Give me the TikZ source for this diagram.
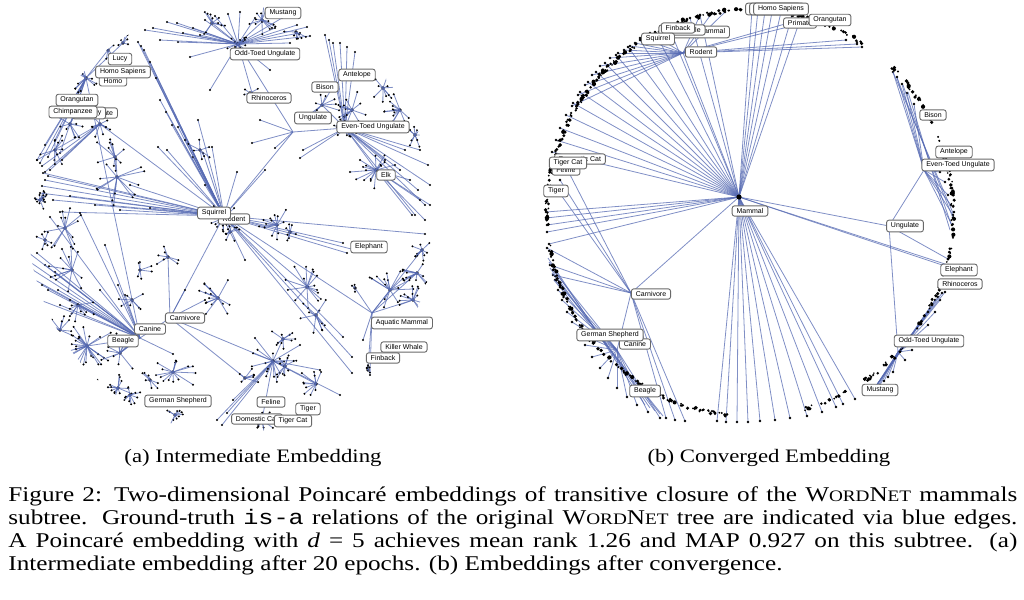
\documentclass[tikz,border=0pt]{standalone}
\usepackage{fontspec}
\setmainfont{Liberation Serif}[FakeStretch=1.2]
\setmonofont{Liberation Mono}[FakeStretch=1.2]
\newfontfamily\tagfont{Liberation Sans}
\usetikzlibrary{calc}
\definecolor{edgeblue}{RGB}{85, 105, 178}
\definecolor{boxgray}{RGB}{105, 105, 105}
\newcommand{\smc}[1]{{\fontsize{8}{8}\selectfont #1}}
\newcommand{\wordnet}{W\smc{ORD}N\smc{ET}}
\tikzset{
  edge/.style={edgeblue, line width=0.4pt, opacity=0.75},
  tag/.style={draw=boxgray, fill=white, rounded corners=1.2pt, line width=0.45pt,
    font=\tagfont\fontsize{3.5}{4}\selectfont, inner xsep=2.2pt, inner ysep=1.3pt},
  subcap/.style={font=\fontsize{9.5}{11}\selectfont, inner sep=0pt},
}

\begin{document}
\begin{tikzpicture}[x=0.5pt, y=-0.5pt]
  \useasboundingbox (0,0) rectangle (1024,600);
  \pgfmathsetseed{7}

  % ---- (a) intermediate embedding ----
  \begin{scope}
    \clip (232,219) ellipse (204 and 214);
    \coordinate (rodL) at (224,216);
    \coordinate (oddL) at (238,44);
    \coordinate (ungL) at (293,132);
    \coordinate (evenL) at (345,128);
    \coordinate (primL) at (86,78);
    \coordinate (apeL) at (100,124);
    \coordinate (carnL) at (170,318);
    \coordinate (canL) at (140,338);
    \coordinate (felL) at (273,361);
    \coordinate (elkL) at (376,170);
    \coordinate (aquaL) at (372,313);

    % hub to hub
    \draw[edge] (rodL) -- (ungL) (ungL) -- (evenL) (ungL) -- (oddL) (rodL) -- (carnL)
      (carnL) -- (canL) (carnL) -- (felL) (apeL) -- (rodL) (rodL) -- (aquaL)
      (evenL) -- (elkL) (canL) -- (primL);

    % long edges
    \foreach \h/\x/\y in {rodL/138/42, rodL/141/46, rodL/144/50, rodL/150/62, rodL/156/78,
      rodL/160/100, rodL/166/112, rodL/172/125, rodL/178/127, rodL/158/147, rodL/167/150,
      rodL/193/157, rodL/203/153, rodL/212/147, rodL/237/172, rodL/43/173, rodL/45/180,
      rodL/40/193, rodL/53/200, rodL/70/196, rodL/95/205, rodL/120/210, rodL/150/208,
      rodL/60/212, rodL/343/243, rodL/347/253, rodL/355/250, rodL/425/234, rodL/352/357,
      rodL/352/373, rodL/343/337, rodL/245/260, rodL/277/225, rodL/308/287, rodL/48/176,
      rodL/42/186, rodL/130/185, rodL/185/140, rodL/198/120, rodL/265/170, rodL/205/185,
      oddL/167/22, oddL/177/23, oddL/153/28, oddL/183/33, oddL/193/28, oddL/205/20,
      oddL/215/16, oddL/228/14, oddL/255/18, oddL/262/22, oddL/275/28, oddL/297/25,
      oddL/307/27, oddL/300/33, oddL/290/43, oddL/210/90, oddL/190/57, oddL/178/42,
      oddL/270/70, oddL/252/93, oddL/212/23, oddL/145/30, oddL/160/40, oddL/240/12,
      oddL/282/18, oddL/310/36, oddL/200/35,
      primL/40/163, primL/48/157, primL/60/153, primL/37/160, primL/108/50, primL/123/43,
      primL/70/125, primL/55/140, primL/45/145, apeL/37/160, apeL/42/166, apeL/50/170,
      apeL/45/172, apeL/62/160,
      evenL/325/35, evenL/329/40, evenL/333/43, evenL/340/43, evenL/347/47, evenL/355/52,
      evenL/410/130, evenL/420/150, evenL/428/165, evenL/430/185, evenL/425/205,
      evenL/415/215, evenL/400/170, evenL/300/158, evenL/303/150, evenL/322/105,
      evenL/352/110, evenL/385/160, evenL/418/190, evenL/405/150, ungL/252/143,
      ungL/275/148, ungL/260/120,
      carnL/168/257, carnL/245/378, carnL/185/290, carnL/205/300,
      canL/37/253, canL/30/262, canL/45/265, canL/55/272, canL/35/280, canL/48/290,
      canL/40/300, canL/60/305, canL/25/250, canL/50/217, canL/118/285, canL/125/295,
      canL/100/290, canL/80/213, canL/173/354, canL/120/353, canL/87/346, canL/33/270,
      canL/42/285, canL/58/290, canL/70/300, canL/105/245,
      felL/217/420, felL/227/413, felL/233/400, felL/316/384, felL/285/366, felL/283/339,
      felL/255/338, felL/262/420, felL/300/345, felL/320/370, felL/222/425, felL/340/395,
      elkL/420/200, elkL/430/205, elkL/410/180, elkL/395/165, elkL/360/160, elkL/350/172,
      elkL/412/215, elkL/425/220, aquaL/363/340, aquaL/390/290, aquaL/417/273,
      aquaL/413/300, aquaL/422/250, aquaL/355/288, aquaL/368/367, aquaL/370/375}{
      \draw[edge] (\h) -- (\x,\y);
      \fill (\x,\y) circle (1.2);
    }

    % local stars
    \foreach \x/\y/\n/\rad in {224/218/16/16, 230/232/8/10, 212/23/8/14, 262/20/10/16,
      296/32/6/12, 108/50/6/14, 123/43/5/10, 86/78/10/18, 100/124/8/14, 70/124/8/16,
      55/150/8/16, 115/157/8/24, 117/177/10/30, 40/200/12/10, 65/228/10/24, 72/270/10/24,
      168/257/6/14, 132/300/6/14, 78/305/8/20, 87/346/22/28, 120/353/10/22, 173/372/12/28,
      118/388/10/16, 130/395/8/14, 85/383/10/14, 175/415/8/12, 218/298/12/22, 277/225/10/18,
      290/232/6/12, 307/287/12/24, 316/315/8/18, 273/361/10/24, 285/366/8/14, 316/384/8/18,
      283/339/8/14, 245/378/6/14, 262/420/10/14, 200/150/6/14, 322/105/8/20, 352/110/10/20,
      383/88/8/16, 400/110/10/18, 415/135/8/14, 345/128/10/14, 376/170/10/22, 422/250/8/12,
      390/290/12/24, 417/273/10/16, 413/300/10/16, 355/288/3/6, 368/370/4/6, 250/93/4/10,
      238/44/12/12, 150/380/6/12, 60/330/8/16, 105/410/6/12, 45/240/6/10, 140/270/5/12}{
      \fill (\x,\y) circle (1.8);
      \pgfmathtruncatemacro\nn{1.3*\n}
      \foreach \k in {1,...,\nn}{
        \pgfmathsetmacro\ang{360*rnd}
        \pgfmathsetmacro\len{\rad*(0.3+0.7*rnd)}
        \draw[edge] (\x,\y) -- ++(\ang:\len) coordinate (tip);
        \fill (tip) circle (1.1);
      }
    }
  \end{scope}

  % labels (a)
  \node[tag] (lucyA) at (120,59) {Lucy};
  \node[tag] (homoA) at (113,81) {Homo};
  \node[tag] (sapA) at (123,72) {Homo Sapiens};
  \node[tag] (oranA) at (77,100) {Orangutan};
  \node[tag] (primA) at (101,113) {Primate};
  \node[tag] (monkA) at (89,113) {Monkey};
  \node[tag] (chimpA) at (73,112) {Chimpanzee};
  \node[tag] (mustA) at (283,13) {Mustang};
  \node[tag] (oddA) at (265,54) {Odd-Toed Ungulate};
  \node[tag] (rhinoA) at (269,98) {Rhinoceros};
  \node[tag] (bisonA) at (325,87) {Bison};
  \node[tag] (antA) at (357,75) {Antelope};
  \node[tag] (ungA) at (313,118) {Ungulate};
  \node[tag] (evenA) at (373,127) {Even-Toed Ungulate};
  \node[tag] (elkA) at (386,175) {Elk};
  \node[tag] (rodA) at (234,219) {Rodent};
  \node[tag] (squA) at (214,213) {Squirrel};
  \node[tag] (eleA) at (369,247) {Elephant};
  \node[tag] (aquaA) at (402,323) {Aquatic Mammal};
  \node[tag] (whaleA) at (404,347) {Killer Whale};
  \node[tag] (finA) at (383,358) {Finback};
  \node[tag] (carnA) at (185,318) {Carnivore};
  \node[tag] (canA) at (150,329) {Canine};
  \node[tag] (beagA) at (123,341) {Beagle};
  \node[tag] (gsA) at (178,401) {German Shepherd};
  \node[tag] (felA) at (271,402) {Feline};
  \node[tag] (tigA) at (308,409) {Tiger};
  \node[tag] (domA) at (257,419) {Domestic Cat};
  \node[tag] (tcA) at (293,421) {Tiger Cat};

  % ---- (b) converged embedding ----
  \coordinate (rimc) at (750,213);
  \coordinate (mamR) at (739,197);
  \coordinate (rodR) at (683,53);
  \coordinate (carnR) at (631,293);
  \coordinate (canR) at (617,350);
  \coordinate (ungR) at (889,226);
  \coordinate (evenR) at (924,170);
  \coordinate (oddR) at (898,352);
  \coordinate (musR) at (874,389);

  \draw[edge] (mamR) -- (rodR) (mamR) -- (carnR) (mamR) -- (ungR) (carnR) -- (canR)
    (ungR) -- (evenR) (ungR) -- (oddR) (oddR) -- (musR);

  \foreach \h/\x/\y in {mamR/752/10, mamR/758/10, mamR/765/11, mamR/772/12, mamR/781/12,
    mamR/792/16, mamR/800/20, mamR/700/15, mamR/690/18, mamR/668/25, mamR/655/32,
    mamR/640/40, mamR/628/47, mamR/616/55, mamR/605/63, mamR/596/72, mamR/588/82,
    mamR/580/92, mamR/573/103, mamR/566/115, mamR/560/128, mamR/556/140, mamR/552/152,
    mamR/546/212, mamR/546/218, mamR/547/225, mamR/547/232, mamR/549/244, mamR/717/421,
    mamR/726/422, mamR/737/422, mamR/748/422, mamR/760/421, mamR/775/420, mamR/790/418,
    mamR/807/416, mamR/822/412, mamR/836/407, mamR/843/404, mamR/855/399, mamR/948/265,
    mamR/951/268,
    rodR/635/43, rodR/630/46, rodR/624/50, rodR/618/53, rodR/610/58, rodR/600/66,
    rodR/592/75, rodR/585/85, rodR/578/95, rodR/572/106, rodR/857/44, rodR/862/47,
    rodR/846/40, rodR/792/22, rodR/800/24, rodR/700/15, rodR/712/13, rodR/725/12,
    rodR/640/38, rodR/650/33,
    carnR/556/188, carnR/560/180, carnR/565/165, carnR/547/248, carnR/550/265,
    carnR/553/275, carnR/666/418, carnR/675/420, carnR/685/421,
    canR/553/270, canR/555/280, canR/558/290, canR/562/300, canR/567/312, canR/572/322,
    canR/578/333, canR/585/345, canR/592/357, canR/600/368, canR/608/378, canR/617/388,
    canR/627/397, canR/637/405, canR/648/412, canR/660/418,
    ungR/948/259,
    evenR/893/72, evenR/897/77, evenR/902/84, evenR/907/93, evenR/914/104, evenR/948/195,
    evenR/951/205, evenR/953/215, evenR/945/182, evenR/940/172, evenR/952/225,
    oddR/874/390, oddR/877/388, oddR/880/385, oddR/884/381, oddR/888/377, oddR/893/372,
    oddR/905/360, oddR/912/350, oddR/920/338, oddR/928/325, oddR/935/312, oddR/940/300,
    oddR/945/292, musR/935/300, musR/938/297, musR/942/293, musR/932/305, musR/928/312}{
    \draw[edge] (\h) -- (\x,\y);
    \fill (\x,\y) circle (1.3);
  }
  % rim to rim
  \foreach \xa/\ya/\xb/\yb in {548/258/645/405, 549/262/650/408, 550/268/655/411,
    552/273/660/414, 554/280/663/416, 893/72/953/213, 897/78/953/218, 903/85/951/224,
    908/92/950/230}{
    \draw[edge] (\xa,\ya) -- (\xb,\yb);
  }
  % points on the rim
  \foreach \a/\b/\n in {-176/-108/120, -106/-88/30, -88/-60/35, -60/-56/6, -46/-28/22,
    -28/25/80, 25/57/45, 60/75/18, 95/172/130, 176/186/16}{
    \foreach \k in {1,...,\n}{
      \pgfmathsetmacro\ang{\a+(\b-\a)*rnd}
      \pgfmathsetmacro\rad{201.5+3.5*rnd}
      \pgfmathsetmacro\dsz{0.8+1.3*rnd}
      \fill ($(rimc)+(\ang:\rad)$) circle (\dsz);
    }
  }
  \fill (mamR) circle (2.6);

  % labels (b)
  \node[tag] (homoB1) at (773,9) {Homo Sapiens};
  \node[tag] (homoB2) at (777,9) {Homo Sapiens};
  \node[tag] (sapB) at (781,9) {Homo Sapiens};
  \node[tag] (primB) at (800,23) {Primate};
  \node[tag] (oranB) at (830,20) {Orangutan};
  \node[tag] (aquaB) at (699,32) {Aquatic Mammal};
  \node[tag] (whaleB) at (682,30) {Killer Whale};
  \node[tag] (finB) at (678,28) {Finback};
  \node[tag] (squB) at (658,39) {Squirrel};
  \node[tag] (rodB) at (701,52) {Rodent};
  \node[tag] (domB) at (580,159) {Domestic Cat};
  \node[tag] (felB) at (566,170) {Feline};
  \node[tag] (tcB) at (568,163) {Tiger Cat};
  \node[tag] (tigB) at (556,191) {Tiger};
  \node[tag] (bisonB) at (933,115) {Bison};
  \node[tag] (antB) at (954,152) {Antelope};
  \node[tag] (evenB) at (958,165) {Even-Toed Ungulate};
  \node[tag] (mamB) at (750,211) {Mammal};
  \node[tag] (ungB) at (905,226) {Ungulate};
  \node[tag] (eleB) at (959,270) {Elephant};
  \node[tag] (rhinoB) at (960,284) {Rhinoceros};
  \node[tag] (carnB) at (651,294) {Carnivore};
  \node[tag] (canB) at (635,344) {Canine};
  \node[tag] (gsB) at (610,335) {German Shepherd};
  \node[tag] (beagB) at (645,391) {Beagle};
  \node[tag] (oddB) at (929,341) {Odd-Toed Ungulate};
  \node[tag] (mustB) at (880,390) {Mustang};

  % captions
  \node[subcap] (capa) at (253,458) {(a) Intermediate Embedding};
  \node[subcap] (capb) at (769,458) {(b) Converged Embedding};
  \node[anchor=north west, inner sep=0pt, text width=504.5pt, align=justify,
    font=\fontsize{10.5}{11.5}\selectfont] (figcap) at (8,486)
    {Figure 2: Two-dimensional Poincaré embeddings of transitive closure of the \wordnet{} mammals
     subtree. Ground-truth \texttt{is-a} relations of the original \wordnet{} tree are indicated via blue edges.
     A Poincaré embedding with \textit{d} = 5 achieves mean rank 1.26 and MAP 0.927 on this subtree. (a)
     Intermediate embedding after 20 epochs. (b) Embeddings after convergence.};
\end{tikzpicture}
\end{document}
